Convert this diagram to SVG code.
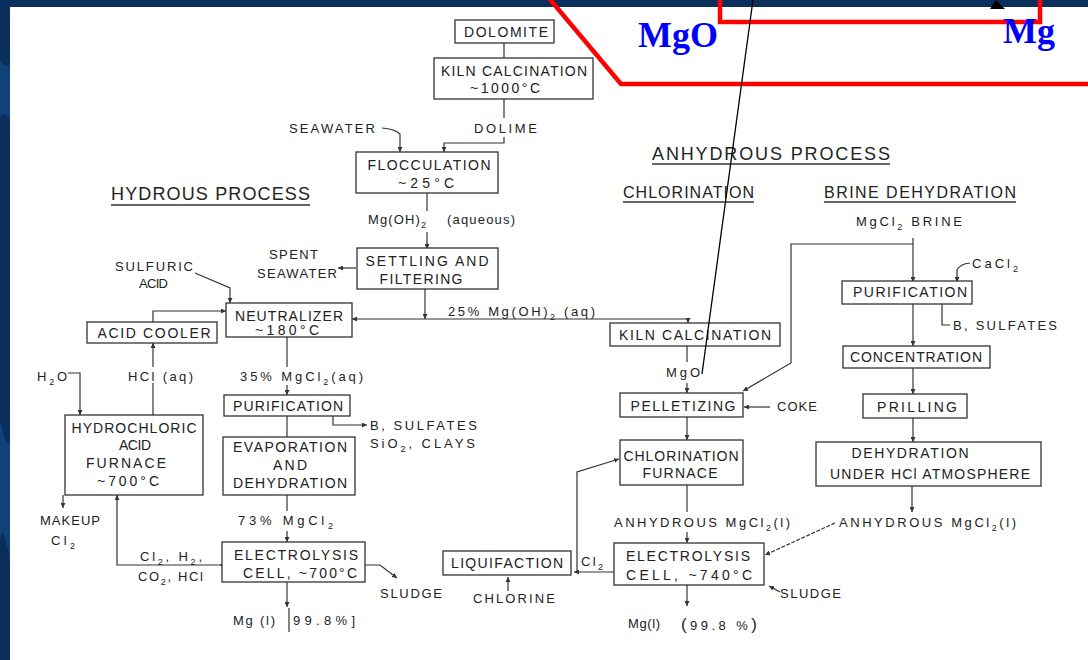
<svg xmlns="http://www.w3.org/2000/svg" width="1088" height="660" viewBox="0 0 1088 660">
<defs>
<style>
.box{fill:#fff;stroke:#333;stroke-width:1.3}
.t{font-family:"Liberation Sans",Arial,sans-serif;font-size:14px;fill:#222;text-anchor:middle}
.l{font-family:"Liberation Sans",Arial,sans-serif;font-size:13px;fill:#222}
.h{font-family:"Liberation Sans",Arial,sans-serif;font-size:18px;fill:#222}
.s{font-size:9px}
.ln{stroke:#333;stroke-width:1.2;fill:none}
.ul{stroke:#333;stroke-width:1.3}
.red{stroke:#ff0000;stroke-width:4.5;fill:none}
.big{font-family:"Liberation Serif","Times New Roman",serif;font-weight:bold;font-size:36px;fill:#0000ff}
</style>
<marker id="a" viewBox="0 0 6 6" refX="6" refY="3" markerWidth="5" markerHeight="5" orient="auto" markerUnits="userSpaceOnUse"><path d="M0,0 L6,3 L0,6 z" fill="#333"/></marker>
</defs>
<rect width="1088" height="660" fill="#0a2f5c"/>
<path d="M0,60 Q6,70 10,64 L10,120 Q4,110 0,118 Z" fill="#12508c" opacity="0.6"/>
<path d="M0,420 Q6,450 10,440 L10,560 Q3,520 0,540 Z" fill="#12508c" opacity="0.6"/>
<rect x="10" y="7" width="1078" height="653" fill="#fff"/>

<g id="connectors">
<line class="ln" x1="504" y1="43" x2="504" y2="58"/>
<line class="ln" x1="504" y1="99" x2="504" y2="118"/>
<path class="ln" d="M504,137 V143 H444 V152" marker-end="url(#a)"/>
<path class="ln" d="M382,128 Q395,129 400,134 V152" marker-end="url(#a)"/>
<line class="ln" x1="427" y1="193" x2="427" y2="211"/>
<line class="ln" x1="427" y1="232" x2="427" y2="249" marker-end="url(#a)"/>
<line class="ln" x1="356" y1="268" x2="338" y2="268" marker-end="url(#a)"/>
<line class="ln" x1="425" y1="289" x2="425" y2="319" marker-end="url(#a)"/>
<line class="ln" x1="688" y1="319" x2="352" y2="319" marker-end="url(#a)"/>
<line class="ln" x1="688" y1="318.5" x2="688" y2="323" marker-end="url(#a)"/>
<path class="ln" d="M195,273 L230,288 V303" marker-end="url(#a)"/>
<path class="ln" d="M153,323 V311 H226" marker-end="url(#a)"/>
<line class="ln" x1="153" y1="415" x2="153" y2="383"/>
<line class="ln" x1="153" y1="367" x2="153" y2="343" marker-end="url(#a)"/>
<path class="ln" d="M68,373 H80 V415" marker-end="url(#a)"/>
<line class="ln" x1="287" y1="337" x2="287" y2="367"/>
<line class="ln" x1="287" y1="385" x2="287" y2="395" marker-end="url(#a)"/>
<path class="ln" d="M333,416 V425 H367" marker-end="url(#a)"/>
<line class="ln" x1="287" y1="416" x2="287" y2="437"/>
<line class="ln" x1="287" y1="495" x2="287" y2="511"/>
<line class="ln" x1="287" y1="531" x2="287" y2="542" marker-end="url(#a)"/>
<line class="ln" x1="63" y1="495" x2="63" y2="508" marker-end="url(#a)"/>
<path class="ln" d="M222,565 H117 V495" marker-end="url(#a)"/>
<line class="ln" x1="222" y1="565" x2="220" y2="565" marker-end="url(#a)"/>
<path class="ln" d="M365,565 H380 L397,578" marker-end="url(#a)"/>
<line class="ln" x1="287" y1="582" x2="287" y2="607" marker-end="url(#a)"/>
<line class="ln" x1="289" y1="608" x2="289" y2="632"/>

<line class="ln" x1="687" y1="346" x2="687" y2="362"/>
<line class="ln" x1="687" y1="383" x2="687" y2="393" marker-end="url(#a)"/>
<line class="ln" x1="770" y1="407" x2="744" y2="407" marker-end="url(#a)"/>
<line class="ln" x1="687" y1="417" x2="687" y2="440" marker-end="url(#a)"/>
<line class="ln" x1="687" y1="485" x2="687" y2="512"/>
<line class="ln" x1="687" y1="532" x2="687" y2="543" marker-end="url(#a)"/>
<path class="ln" d="M614,572 H574" marker-end="url(#a)"/>
<path class="ln" d="M577,572 V472 L619,459" marker-end="url(#a)"/>
<line class="ln" x1="508" y1="591" x2="508" y2="577" marker-end="url(#a)"/>
<line class="ln" x1="780" y1="592" x2="769" y2="586" marker-end="url(#a)"/>
<line class="ln" x1="687" y1="585" x2="687" y2="606" marker-end="url(#a)"/>

<line class="ln" x1="913" y1="238" x2="913" y2="282" marker-end="url(#a)"/>
<path class="ln" d="M913,244 H791 V363 L743,391" marker-end="url(#a)"/>
<path class="ln" d="M970,263 Q960,264 957,270 V282" marker-end="url(#a)"/>
<path class="ln" d="M942,304 V325 H950"/>
<line class="ln" x1="913" y1="304" x2="913" y2="346" marker-end="url(#a)"/>
<line class="ln" x1="913" y1="368" x2="913" y2="394" marker-end="url(#a)"/>
<line class="ln" x1="913" y1="418" x2="913" y2="442" marker-end="url(#a)"/>
<line class="ln" x1="912" y1="486" x2="912" y2="512" marker-end="url(#a)"/>
<line class="ln" x1="835" y1="523" x2="765" y2="555" stroke-dasharray="4,1.5" marker-end="url(#a)"/>
</g>

<g id="dolomite"><rect class="box" x="455" y="20" width="99" height="23"/><text class="t" x="506" y="37" textLength="84">DOLOMITE</text></g>
<g id="kiln1"><rect class="box" x="434" y="58" width="159" height="41"/><text class="t" x="514" y="76" textLength="146">KILN CALCINATION</text><text class="t" x="505" y="93" textLength="70">~1000°C</text></g>
<g id="flocculation"><rect class="box" x="356" y="152" width="142" height="41"/><text class="t" x="429" y="170" textLength="123">FLOCCULATION</text><text class="t" x="426" y="188" textLength="56">~25°C</text></g>
<g id="settling"><rect class="box" x="357" y="248" width="141" height="41"/><text class="t" x="427" y="266" textLength="123">SETTLING AND</text><text class="t" x="421" y="284" textLength="83">FILTERING</text></g>
<g id="neutralizer"><rect class="box" x="226" y="303" width="126" height="34"/><text class="t" x="289" y="321" textLength="108">NEUTRALIZER</text><text class="t" x="287" y="335" textLength="64">~180°C</text></g>
<g id="acidcooler"><rect class="box" x="87" y="322" width="130" height="21"/><text class="t" x="154" y="338" textLength="113">ACID COOLER</text></g>
<g id="hclfurnace"><rect class="box" x="65" y="415" width="138" height="80"/><text class="t" x="134" y="433" textLength="125">HYDROCHLORIC</text><text class="t" x="135" y="450" textLength="32">ACID</text><text class="t" x="126" y="468" textLength="80">FURNACE</text><text class="t" x="128" y="486" textLength="62">~700°C</text></g>
<g id="purification1"><rect class="box" x="224" y="395" width="126" height="21"/><text class="t" x="288" y="411" textLength="110">PURIFICATION</text></g>
<g id="evaporation"><rect class="box" x="223" y="437" width="132" height="58"/><text class="t" x="290" y="452" textLength="114">EVAPORATION</text><text class="t" x="290" y="470" textLength="34">AND</text><text class="t" x="290" y="488" textLength="114">DEHYDRATION</text></g>
<g id="cell1"><rect class="box" x="222" y="542" width="143" height="40"/><text class="t" x="296" y="560" textLength="124">ELECTROLYSIS</text><text class="t" x="300" y="578" textLength="114">CELL, ~700°C</text></g>

<g id="kiln2"><rect class="box" x="610" y="323" width="170" height="23"/><text class="t" x="695" y="340" textLength="152">KILN CALCINATION</text></g>
<g id="pelletizing"><rect class="box" x="620" y="393" width="123" height="24"/><text class="t" x="683" y="411" textLength="105">PELLETIZING</text></g>
<g id="chlorfurnace"><rect class="box" x="620" y="440" width="123" height="45"/><text class="t" x="681" y="461" textLength="115">CHLORINATION</text><text class="t" x="680" y="478" textLength="75">FURNACE</text></g>
<g id="cell2"><rect class="box" x="614" y="543" width="150" height="42"/><text class="t" x="688" y="561" textLength="124">ELECTROLYSIS</text><text class="t" x="689" y="580" textLength="126">CELL, ~740°C</text></g>
<g id="liquifaction"><rect class="box" x="443" y="551" width="128" height="24"/><text class="t" x="507" y="568" textLength="112">LIQUIFACTION</text></g>
<g id="purification2"><rect class="box" x="842" y="281" width="130" height="23"/><text class="t" x="910" y="297" textLength="114">PURIFICATION</text></g>
<g id="concentration"><rect class="box" x="843" y="346" width="147" height="22"/><text class="t" x="916" y="362" textLength="132">CONCENTRATION</text></g>
<g id="prilling"><rect class="box" x="863" y="394" width="104" height="24"/><text class="t" x="917" y="412" textLength="80">PRILLING</text></g>
<g id="dehydration"><rect class="box" x="816" y="442" width="225" height="44"/><text class="t" x="910" y="458" textLength="117">DEHYDRATION</text><text class="t" x="930" y="479" textLength="200">UNDER HCl ATMOSPHERE</text></g>

<g id="labels">
<text class="h" x="111" y="200" textLength="199">HYDROUS PROCESS</text>
<line class="ul" x1="111" y1="205" x2="310" y2="205"/>
<text class="h" x="652" y="160" textLength="238">ANHYDROUS PROCESS</text>
<line class="ul" x1="652" y1="164" x2="890" y2="164"/>
<text class="h" x="623" y="198" textLength="131" style="font-size:16px">CHLORINATION</text>
<line class="ul" x1="623" y1="202" x2="754" y2="202"/>
<text class="h" x="824" y="198" textLength="192" style="font-size:16px">BRINE DEHYDRATION</text>
<line class="ul" x1="824" y1="202" x2="1016" y2="202"/>

<text class="l" x="289" y="133" textLength="86">SEAWATER</text>
<text class="l" x="474" y="133" textLength="63">DOLIME</text>
<text class="l" x="368" y="224" textLength="58">Mg(OH)<tspan class="s" dy="4">2</tspan></text>
<text class="l" x="447" y="224" textLength="68">(aqueous)</text>
<text class="l" x="269" y="259" textLength="49">SPENT</text>
<text class="l" x="257" y="278" textLength="80">SEAWATER</text>
<text class="l" x="115" y="271" textLength="78">SULFURIC</text>
<text class="l" x="139" y="288" textLength="29">ACID</text>
<text class="l" x="448" y="316" textLength="147">25% Mg(OH)<tspan class="s" dy="4">2</tspan><tspan dy="-4"> (aq)</tspan></text>
<text class="l" x="37" y="381" textLength="30">H<tspan class="s" dy="4">2</tspan><tspan dy="-4">O</tspan></text>
<text class="l" x="128" y="381" textLength="65">HCl (aq)</text>
<text class="l" x="240" y="381" textLength="123">35% MgCl<tspan class="s" dy="4">2</tspan><tspan dy="-4">(aq)</tspan></text>
<text class="l" x="370" y="430" textLength="107">B, SULFATES</text>
<text class="l" x="370" y="448" textLength="105">SiO<tspan class="s" dy="4">2</tspan><tspan dy="-4">, CLAYS</tspan></text>
<text class="l" x="40" y="525" textLength="60">MAKEUP</text>
<text class="l" x="51" y="545" textLength="24">Cl<tspan class="s" dy="4">2</tspan></text>
<text class="l" x="238" y="525" textLength="95">73% MgCl<tspan class="s" dy="4">2</tspan></text>
<text class="l" x="140" y="561" textLength="62">Cl<tspan class="s" dy="4">2</tspan><tspan dy="-4">, H</tspan><tspan class="s" dy="4">2</tspan><tspan dy="-4">,</tspan></text>
<text class="l" x="138" y="581" textLength="65">CO<tspan class="s" dy="4">2</tspan><tspan dy="-4">, HCl</tspan></text>
<text class="l" x="380" y="598" textLength="62">SLUDGE</text>
<text class="l" x="233" y="625" textLength="42">Mg (l)</text>
<text class="l" x="293" y="625" textLength="62">99.8%]</text>

<text class="l" x="856" y="226" textLength="106">MgCl<tspan class="s" dy="4">2</tspan><tspan dy="-4"> BRINE</tspan></text>
<text class="l" x="972" y="268" textLength="46">CaCl<tspan class="s" dy="4">2</tspan></text>
<text class="l" x="953" y="330" textLength="104">B, SULFATES</text>
<text class="l" x="666" y="377" textLength="34">MgO</text>
<text class="l" x="777" y="411" textLength="40">COKE</text>
<text class="l" x="614" y="527" textLength="176">ANHYDROUS MgCl<tspan class="s" dy="4">2</tspan><tspan dy="-4">(l)</tspan></text>
<text class="l" x="839" y="527" textLength="177">ANHYDROUS MgCl<tspan class="s" dy="4">2</tspan><tspan dy="-4">(l)</tspan></text>
<text class="l" x="581" y="566" textLength="22">Cl<tspan class="s" dy="4">2</tspan></text>
<text class="l" x="473" y="603" textLength="82">CHLORINE</text>
<text class="l" x="780" y="598" textLength="61">SLUDGE</text>
<text class="l" x="628" y="628" textLength="32">Mg(l)</text>
<text class="l" x="681" y="630" textLength="76"><tspan style="font-size:17px">(</tspan>99.8 %<tspan style="font-size:17px">)</tspan></text>
</g>

<g id="overlay">
<polyline class="red" points="548,-3 621,84 1092,84"/>
<polyline class="red" points="720,-3 720,22 1040,22 1040,-3"/>
<line x1="753" y1="0" x2="702" y2="374" stroke="#000" stroke-width="1.3"/>
<polygon points="996,0 990,9 1005,9" fill="#000"/>
<text class="big" x="638" y="47">MgO</text>
<text class="big" x="1003" y="43">Mg</text>
</g>
</svg>
